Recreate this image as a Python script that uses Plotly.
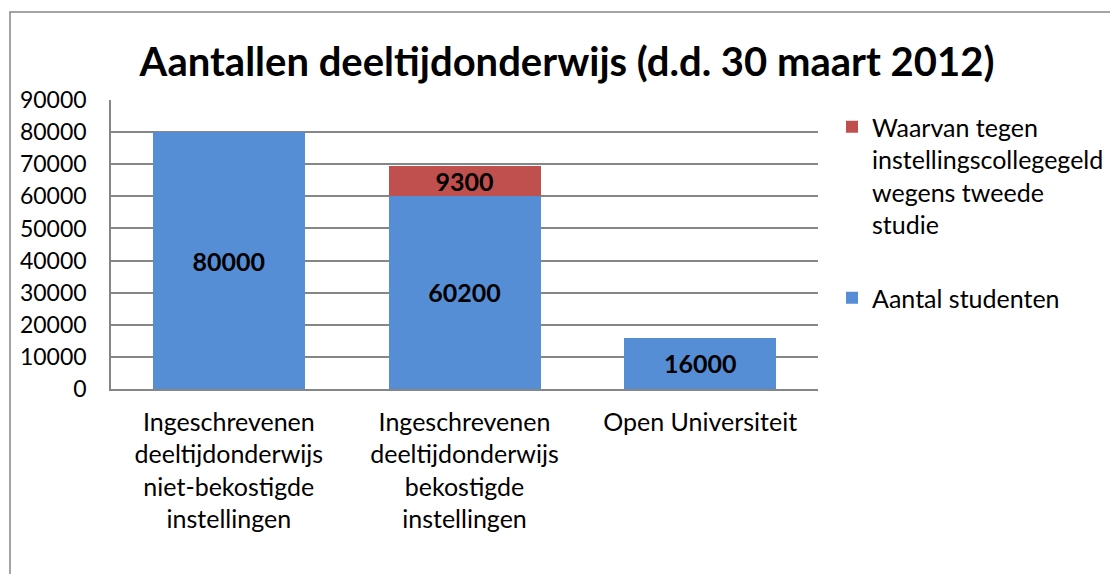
import plotly.graph_objects as go

categories = [
    "Ingeschrevenen<br>deeltijdonderwijs<br>niet-bekostigde<br>instellingen",
    "Ingeschrevenen<br>deeltijdonderwijs<br>bekostigde<br>instellingen",
    "Open Universiteit",
]
aantal_studenten = [80000, 60200, 16000]
instellingscollegegeld = [None, 9300, None]
y_ticks = [0, 10000, 20000, 30000, 40000, 50000, 60000, 70000, 80000, 90000]

FONT = "Lato, 'Open Sans', sans-serif"
W, H = 1110, 574
L, R, T, B = 111, 292, 100, 185
pw, ph = W - L - R, H - T - B

def px(x):
    return (x - L) / pw

def py(y):
    return (H - B - y) / ph

fig = go.Figure()
fig.add_trace(go.Bar(
    x=categories, y=aantal_studenten, name="Aantal studenten",
    marker=dict(color="#558ED5", line=dict(width=0)),
    text=[str(v) for v in aantal_studenten], textposition="inside",
    insidetextanchor="middle", constraintext="none",
    textfont=dict(family=FONT, size=25, color="black", weight="bold"),
    legendgroup="a", legendrank=2,
))
fig.add_trace(go.Bar(
    x=categories, y=instellingscollegegeld,
    name="Waarvan tegen<br>instellingscollegegeld<br>wegens tweede<br>studie",
    marker=dict(color="#C0504D", line=dict(width=0)),
    text=[str(v) if v else "" for v in instellingscollegegeld], textposition="inside",
    insidetextanchor="middle", constraintext="none",
    textfont=dict(family=FONT, size=25, color="black", weight="bold"),
    legendgroup="b", legendrank=1,
))

fig.update_layout(
    width=W, height=H,
    margin=dict(l=L, r=R, t=T, b=B, autoexpand=False),
    barmode="stack", bargap=0.355,
    plot_bgcolor="white", paper_bgcolor="white",
    font=dict(family=FONT, size=22, color="black"),
    title=dict(text="<b>Aantallen deeltijdonderwijs (d.d. 30 maart 2012)</b>",
               x=567 / W, xanchor="center", y=1 - 62 / H, yanchor="middle",
               yref="container", xref="container",
               font=dict(family=FONT, size=40, color="black")),
    legend=dict(x=px(832), y=py(104), xanchor="left", yanchor="top",
                traceorder="grouped", tracegroupgap=38,
                valign="top", font=dict(family=FONT, size=25, color="black"),
                bgcolor="rgba(0,0,0,0)"),
    shapes=[dict(type="rect", xref="paper", yref="paper",
                 x0=px(10), x1=px(1130), y0=py(600), y1=py(12),
                 line=dict(color="#868686", width=1.5), fillcolor="rgba(0,0,0,0)",
                 layer="below")],
)
fig.update_yaxes(range=[0, 90000], tickvals=y_ticks, ticktext=[str(v) for v in y_ticks],
                 showgrid=True, gridcolor="#868686", gridwidth=1.5,
                 showline=True, linecolor="#868686", linewidth=1.5,
                 ticks="", ticklabelstandoff=18, zeroline=False,
                 tickfont=dict(family=FONT, size=23, color="black"))
fig.update_xaxes(showline=True, linecolor="#868686", linewidth=1.5, ticks="",
                 ticklabelstandoff=10,
                 tickfont=dict(family=FONT, size=25, color="black"))

fig.write_html("out.html", config={"displayModeBar": False},
               post_script="document.body.style.margin='0';")
